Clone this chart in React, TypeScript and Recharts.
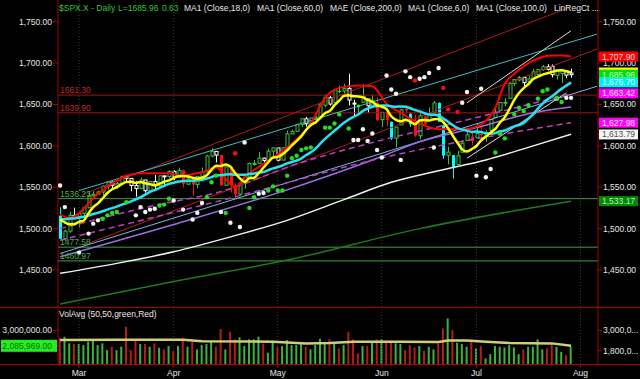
import React from "react";
import {
  ComposedChart,
  Bar,
  Line,
  Scatter,
  XAxis,
  YAxis,
  ReferenceLine,
  Cell,
} from "recharts";

// $SPX.X daily bars, 25 Feb - 30 Jul 2013, one entry per trading day
const opens = [
  1515.6, 1487.85, 1496.94, 1515.99, 1514.68, 1518.2, 1525.2, 1539.79, 1541.46, 1544.26,
  1551.15, 1556.22, 1552.48, 1554.52, 1563.21, 1560.7, 1552.1, 1548.34, 1558.71, 1545.9,
  1556.89, 1551.69, 1563.75, 1562.86, 1569.18, 1562.17, 1570.25, 1553.69, 1559.98, 1553.26,
  1563.11, 1568.61, 1587.73, 1593.3, 1588.84, 1552.36, 1574.57, 1552.03, 1541.61, 1555.25,
  1562.5, 1578.78, 1578.93, 1585.16, 1582.34, 1593.58, 1597.55, 1582.77, 1597.6, 1614.4,
  1617.55, 1625.95, 1632.69, 1626.69, 1632.1, 1633.75, 1649.13, 1658.07, 1652.45, 1665.71,
  1666.2, 1669.39, 1651.62, 1646.67, 1652.63, 1656.57, 1649.14, 1652.13, 1631.71, 1640.73,
  1629.05, 1609.29, 1625.27, 1644.67, 1638.64, 1629.94, 1612.15, 1635.52, 1630.64, 1639.77,
  1651.83, 1624.62, 1588.62, 1588.77, 1577.52, 1592.27, 1606.44, 1611.12, 1609.78, 1614.29,
  1611.48, 1618.65, 1634.2, 1642.89, 1651.56, 1657.41, 1675.26, 1679.59, 1682.7, 1677.91,
  1681.05, 1686.15, 1692.09, 1695.53, 1696.06, 1685.21, 1687.31, 1690.32, 1687.92,
];
const highs = [
  1525.84, 1498.99, 1520.08, 1525.34, 1519.99, 1525.27, 1543.47, 1545.25, 1545.78, 1552.48,
  1556.27, 1556.77, 1556.39, 1563.32, 1563.62, 1560.7, 1557.25, 1561.56, 1558.71, 1557.74,
  1564.91, 1563.95, 1564.07, 1570.28, 1570.57, 1573.66, 1571.47, 1562.6, 1559.98, 1563.07,
  1573.89, 1589.07, 1597.35, 1593.3, 1588.84, 1575.35, 1574.57, 1554.38, 1555.89, 1565.55,
  1579.58, 1583.0, 1592.64, 1585.78, 1596.65, 1597.57, 1597.55, 1598.6, 1618.46, 1619.77,
  1626.03, 1632.78, 1635.01, 1633.7, 1636.0, 1651.1, 1661.49, 1660.51, 1667.47, 1672.84,
  1674.93, 1687.18, 1655.5, 1649.78, 1674.21, 1656.57, 1661.91, 1658.99, 1640.42, 1646.53,
  1629.31, 1622.56, 1644.4, 1648.69, 1640.13, 1637.71, 1639.25, 1640.8, 1646.5, 1654.19,
  1652.45, 1624.62, 1599.19, 1588.77, 1593.79, 1606.83, 1620.07, 1615.94, 1626.61, 1624.26,
  1618.97, 1632.07, 1644.68, 1652.36, 1657.92, 1676.63, 1680.19, 1684.51, 1683.73, 1684.75,
  1693.12, 1692.09, 1697.61, 1698.78, 1698.38, 1690.94, 1691.85, 1690.92, 1693.19,
];
const lows = [
  1487.85, 1485.01, 1494.88, 1514.46, 1501.48, 1512.29, 1525.2, 1538.11, 1541.46, 1539.96,
  1547.36, 1548.24, 1548.25, 1554.52, 1555.74, 1545.13, 1538.57, 1548.34, 1543.55, 1545.9,
  1546.22, 1551.69, 1551.9, 1561.08, 1558.47, 1562.17, 1549.8, 1552.52, 1539.5, 1548.63,
  1557.0, 1568.61, 1586.17, 1579.97, 1552.28, 1552.36, 1543.69, 1536.03, 1539.4, 1548.19,
  1562.5, 1575.8, 1578.93, 1577.56, 1582.34, 1586.5, 1581.28, 1582.77, 1597.6, 1614.21,
  1616.64, 1622.7, 1623.09, 1623.71, 1626.74, 1633.75, 1646.68, 1648.6, 1652.45, 1663.52,
  1662.67, 1648.86, 1635.53, 1636.88, 1652.63, 1640.05, 1648.61, 1630.74, 1622.72, 1623.62,
  1607.09, 1598.23, 1625.27, 1639.26, 1622.92, 1610.92, 1608.07, 1623.96, 1630.34, 1639.77,
  1628.91, 1584.32, 1577.7, 1560.33, 1577.09, 1592.27, 1606.44, 1601.06, 1609.78, 1606.77,
  1604.57, 1614.71, 1634.2, 1642.89, 1647.66, 1657.41, 1672.33, 1677.89, 1671.84, 1677.91,
  1681.05, 1684.08, 1690.67, 1691.13, 1682.57, 1680.07, 1676.03, 1681.86, 1682.42,
];
const closes = [
  1487.85, 1496.94, 1515.99, 1514.68, 1518.2, 1525.2, 1539.79, 1541.46, 1544.26, 1551.18,
  1556.22, 1552.48, 1554.52, 1563.23, 1560.7, 1552.1, 1548.34, 1558.71, 1545.8, 1556.89,
  1551.69, 1563.77, 1562.85, 1569.19, 1562.17, 1570.25, 1553.69, 1559.98, 1553.28, 1563.07,
  1568.61, 1587.73, 1593.37, 1588.85, 1552.36, 1574.57, 1552.01, 1541.61, 1555.25, 1562.5,
  1578.78, 1578.79, 1585.16, 1582.24, 1593.61, 1597.57, 1582.7, 1597.59, 1614.42, 1617.5,
  1625.96, 1632.69, 1626.67, 1633.7, 1633.77, 1650.34, 1658.78, 1650.47, 1667.47, 1666.29,
  1669.16, 1655.35, 1650.51, 1649.6, 1660.06, 1648.36, 1654.41, 1630.74, 1640.42, 1631.38,
  1608.9, 1622.56, 1643.38, 1642.81, 1626.13, 1612.52, 1636.36, 1626.73, 1639.04, 1651.81,
  1628.93, 1588.19, 1592.43, 1573.09, 1588.03, 1603.26, 1613.2, 1606.28, 1614.96, 1614.08,
  1615.41, 1631.89, 1640.46, 1652.32, 1652.62, 1675.02, 1680.19, 1682.5, 1676.26, 1680.91,
  1689.37, 1692.09, 1695.53, 1692.39, 1685.94, 1690.25, 1691.65, 1685.33, 1685.96,
];
// closes before the first visible bar, needed by the 6 and 18 day averages
const priorCloses = [
  1501.96, 1498.11, 1513.17, 1495.71, 1511.29, 1512.12, 1509.39, 1517.93, 1517.01, 1519.43,
  1520.33, 1521.38, 1519.79, 1530.94, 1511.95, 1502.42, 1515.6,
];

const volumes = [
  2550000, 2630000, 2230000, 2190000, 2200000, 2130000, 2330000, 2390000, 2130000, 2230000,
  1830000, 2030000, 1830000, 2030000, 3220000, 1830000, 2470000, 2190000, 2190000, 2030000,
  2230000, 1970000, 1870000, 2070000, 1790000, 2070000, 2530000, 2030000, 2330000, 1870000,
  2130000, 2190000, 2330000, 2030000, 3080000, 1870000, 2920000, 2470000, 2590000, 2070000,
  2470000, 2470000, 2630000, 2230000, 1670000, 2390000, 2030000, 2070000, 2430000, 2130000,
  2130000, 2190000, 2030000, 1870000, 2130000, 2500000, 2190000, 2470000, 2230000, 1930000,
  2130000, 2920000, 2470000, 1630000, 2070000, 2070000, 2270000, 2470000, 2490000, 2390000,
  2390000, 2230000, 2190000, 1830000, 2130000, 1990000, 2070000, 1790000, 2030000, 1870000,
  2230000, 3120000, 3720000, 3020000, 2270000, 2190000, 2030000, 2390000, 1930000, 2070000,
  1330000, 1590000, 2070000, 2030000, 1990000, 2130000, 1990000, 1590000, 1870000, 2030000,
  2030000, 2470000, 1870000, 1930000, 2130000, 2030000, 1730000, 1530000, 2030000,
];
// 50 day volume average as [day, value]
const volAvgPts = [
  [0, 2430000], [12, 2450000], [26, 2450000], [30, 2360000], [45, 2330000], [52, 2230000],
  [57, 2250000], [62, 2330000], [72, 2330000], [80, 2310000], [82, 2400000], [86, 2400000],
  [90, 2330000], [95, 2250000], [104, 2230000], [108, 2090000],
];

// indicator lines as [day, price]
const redLinePts = [
  [0, 1517], [2, 1513], [8, 1542], [14, 1564], [17, 1567], [23, 1567], [25, 1564], [30, 1568],
  [33, 1574], [35, 1560], [37, 1550], [39, 1562], [44, 1582], [48, 1598], [53, 1627], [56, 1658],
  [59, 1670], [63, 1673], [66, 1672], [69, 1651], [72, 1640], [76, 1627], [80, 1620], [85, 1620],
  [89, 1626], [92, 1646], [94, 1675], [96, 1687], [100, 1703], [104, 1709], [106, 1709], [108, 1708],
];
const ma100Pts = [
  [0, 1446], [12, 1458], [24, 1472], [36, 1490], [48, 1510], [60, 1535], [70, 1556], [80, 1570],
  [90, 1583], [100, 1600], [108, 1614],
];
const ma200Pts = [[0, 1409], [24, 1436], [48, 1462], [76, 1500], [108, 1533]];
const ma60Pts = [
  [0, 1466], [24, 1505], [47, 1545], [67, 1585], [76, 1605], [88, 1622], [100, 1640], [108, 1647],
];
const envUpperPts = [[0, 1500], [20, 1528], [34, 1545], [50, 1578], [66, 1604], [85, 1630], [108, 1663]];
const envLowerPts = [[0, 1486], [34, 1534], [70, 1588], [108, 1628]];

// regression channels, [day, price] at each end
const chanRedUpper = [[5, 1542], [108, 1768]];
const chanRedLower = [[5, 1480], [113.5, 1717]];
const chanCyanUpper = [[4, 1546], [113.5, 1735]];
const chanCyanLower = [[0, 1470], [113.5, 1672]];
const chanWhiteUpper = [[86, 1652], [108, 1739]];
const chanWhiteLower = [[86, 1585], [107, 1664]];

const levelsRed = [1661.3, 1639.9];
const levelsGreen = [1536.23, 1477.58, 1460.97];

// marker dots, [day, price]
const whiteDots = [
  [0, 1552], [1, 1526], [4, 1471], [6, 1494], [7, 1506], [8, 1510], [16, 1516], [17, 1526],
  [18, 1520], [19, 1523], [20, 1524], [24, 1534], [26, 1523], [28, 1511], [29, 1519], [30, 1531],
  [34, 1520], [36, 1507], [38, 1502], [39, 1604], [42, 1542], [43, 1543], [62, 1607], [63, 1607],
  [64, 1620], [65, 1606], [66, 1615], [67, 1595], [68, 1586], [69, 1685], [70, 1668], [71, 1663],
  [72, 1583], [73, 1690], [74, 1683], [76, 1681], [77, 1683], [78, 1688], [79, 1598], [80, 1694],
  [85, 1652], [86, 1665], [88, 1564], [89, 1669], [90, 1562], [91, 1572], [105, 1657], [107, 1658],
  [108, 1658],
];
const greenDots = [
  [9, 1512], [10, 1516], [11, 1519], [12, 1520], [14, 1532], [21, 1528], [22, 1529], [23, 1536],
  [31, 1538], [32, 1556], [33, 1564], [35, 1519], [40, 1525], [41, 1538], [44, 1546], [45, 1551],
  [46, 1546], [47, 1546], [48, 1564], [49, 1585], [50, 1588], [51, 1595], [52, 1597], [53, 1598],
  [56, 1622], [57, 1622], [58, 1627], [59, 1638], [61, 1621], [92, 1592], [93, 1615], [94, 1609],
  [96, 1638], [97, 1646], [98, 1642], [99, 1649], [101, 1657], [102, 1666], [103, 1668], [105, 1658],
  [106, 1653],
];
const redDots = [[37, 1591], [75, 1679], [81, 1670], [82, 1644], [84, 1641]];

const monthTicks = [4, 24, 46, 68, 88, 110];
const monthLabels = ["Mar", "Apr", "May", "Jun", "Jul", "Aug"];
const priceTicks = [1450, 1500, 1550, 1600, 1650, 1700, 1750];
const tagValues = [1707.9, 1688.59, 1685.96, 1676.7, 1663.42, 1627.98, 1613.79, 1533.17];
const tagFill = ["#ff0000", "#ffff00", "#00e000", "#00f0f0", "#ff00ff", "#ff00ff", "#f4f4f4", "#008a00"];
const tagInk = ["#ffd8d8", "#9a9a00", "#c8ffc8", "#e8ffff", "#ffe0ff", "#ffe0ff", "#505050", "#b8f0b8"];

const FONT = '"Liberation Sans", Arial, sans-serif';
const AXIS = "#a80000";
const xDomain = [-0.45, 113.7];
const priceDomain = [1405.3, 1776.2];
const volDomain = [1000000, 4400000];

const allCloses = [...priorCloses, ...closes];
const avgOf = (n: number, i: number) => {
  const end = priorCloses.length + i;
  let s = 0;
  for (let k = end - n + 1; k <= end; k++) s += allCloses[k];
  return s / n;
};

const rows: any[] = closes.map((c, i) => ({
  i,
  o: opens[i],
  h: highs[i],
  l: lows[i],
  c,
  prev: i ? closes[i - 1] : priorCloses[priorCloses.length - 1],
  range: [lows[i], highs[i]],
  ma6: avgOf(6, i),
  ma18: avgOf(18, i),
}));
const addPts = (list: any[], key: string, pts: number[][]) =>
  pts.forEach(([i, v]) => {
    list[i][key] = v;
  });
addPts(rows, "red", redLinePts);
addPts(rows, "ma100", ma100Pts);
addPts(rows, "ma200", ma200Pts);
addPts(rows, "ma60", ma60Pts);
addPts(rows, "envU", envUpperPts);
addPts(rows, "envL", envLowerPts);

const volRows: any[] = volumes.map((v, i) => ({ i, v, up: closes[i] >= rows[i].prev }));
addPts(volRows, "avg", volAvgPts);

const toDots = (pts: number[][]) => pts.map(([i, v]) => ({ i, v }));

const money = (v: number) =>
  v.toLocaleString("en-US", { minimumFractionDigits: 2, maximumFractionDigits: 2 });

function Candle(props: any) {
  const { x, y, width, height, payload } = props;
  if (x == null || !payload) return null;
  const { o, h, l, c, prev, ma6, ma18 } = payload;
  const k = h > l ? height / (h - l) : 0;
  const cx = Math.round(x + width / 2) + 0.5;
  const yO = y + (h - o) * k;
  const yC = y + (h - c) * k;
  const top = Math.min(yO, yC);
  const bh = Math.max(1, Math.abs(yC - yO));
  let color = "#ff1010";
  let hollow = false;
  if (c >= o) {
    hollow = c > prev;
    color = hollow ? "#3cc03c" : "#00ff00";
  } else if ((prev - c) / prev > 0.01 && ma6 < ma18) {
    color = "#00ffff";
  } else if (c > ma18) {
    color = "#ffffff";
    hollow = true;
  }
  return (
    <g>
      <line x1={cx} x2={cx} y1={y} y2={y + height} stroke={color} strokeWidth={1} />
      <rect
        x={cx - 1.5}
        y={top}
        width={3}
        height={bh}
        fill={hollow ? "#000" : color}
        stroke={color}
        strokeWidth={hollow ? 1 : 0}
      />
    </g>
  );
}

const dot = (fill: string) => (p: any) => <circle cx={p.cx} cy={p.cy} r={2.2} fill={fill} />;

function LeftPriceTick({ x, y, payload }: any) {
  return (
    <text x={x} y={y} dy={3} textAnchor="end" fill="#e6e6e6" fontSize={8.5}>
      {money(payload.value)}
    </text>
  );
}

function RightPriceTick({ x, y, payload }: any) {
  const k = tagValues.indexOf(payload.value);
  const label = money(payload.value);
  if (k < 0)
    return (
      <text x={x} y={y} dy={3} fill="#e6e6e6" fontSize={8.5}>
        {label}
      </text>
    );
  return (
    <g>
      <rect x={x - 4} y={y - 5} width={39} height={10} fill={tagFill[k]} />
      <text x={x - 1} y={y} dy={3} fill={tagInk[k]} fontSize={8.5}>
        {label}
      </text>
    </g>
  );
}

function LeftVolTick({ x, y, payload }: any) {
  const label = money(payload.value);
  if (payload.value === 3000000)
    return (
      <text x={x} y={y} dy={3} textAnchor="end" fill="#e6e6e6" fontSize={8.5}>
        {label}
      </text>
    );
  return (
    <g>
      <rect x={1} y={y - 6} width={56} height={12} fill="#22ee22" />
      <text x={x} y={y} dy={3} textAnchor="end" fill="#0a6a0a" fontSize={8.5}>
        {label}
      </text>
    </g>
  );
}

function RightVolTick({ x, y, payload }: any) {
  return (
    <text x={x} y={y} dy={3} fill="#e6e6e6" fontSize={8.5}>
      {money(payload.value).slice(0, 7) + "..."}
    </text>
  );
}

function MonthTick({ x, y, payload }: any) {
  return (
    <text x={x} y={y} dy={7} textAnchor="middle" fill="#e6e6e6" fontSize={8.5}>
      {monthLabels[monthTicks.indexOf(payload.value)]}
    </text>
  );
}

const seg = (pts: number[][]) => pts.map(([x, y]) => ({ x, y }));

const titleStyle = (left: number, color: string): React.CSSProperties => ({
  position: "absolute",
  left,
  top: 3,
  fontSize: 8.5,
  lineHeight: "10px",
  color,
  whiteSpace: "nowrap",
});

export default function App() {
  const green = "#3cc03c";
  const white = "#e8e8e8";
  return (
    <div
      style={{
        position: "absolute",
        left: 0,
        top: 0,
        width: 640,
        height: 379,
        background: "#000",
        overflow: "hidden",
        fontFamily: FONT,
      }}
    >
      <div style={{ position: "absolute", left: 0, top: 0 }}>
        <ComposedChart width={640} height={307} data={rows} margin={{ top: 0, right: 0, bottom: 0, left: 0 }}>
          <XAxis dataKey="i" type="number" domain={xDomain} allowDataOverflow hide />
          <YAxis
            domain={priceDomain}
            allowDataOverflow
            ticks={priceTicks}
            interval={0}
            width={58}
            tickSize={5}
            tickMargin={1}
            stroke={AXIS}
            tick={<LeftPriceTick />}
          />
          <YAxis
            yAxisId="r"
            orientation="right"
            domain={priceDomain}
            allowDataOverflow
            ticks={[...priceTicks, ...tagValues]}
            interval={0}
            width={42}
            tickSize={4}
            tickMargin={1}
            stroke={AXIS}
            tick={<RightPriceTick />}
          />
          {monthTicks.map((t) => (
            <ReferenceLine key={"g" + t} x={t} stroke="#3a3a3a" strokeDasharray="1 2" />
          ))}
          {levelsRed.map((v) => (
            <ReferenceLine
              key={v}
              y={v}
              stroke="#a01414"
              label={{ value: v.toFixed(2), position: "insideBottomLeft", offset: 2, fill: "#c82828", fontSize: 8.5 }}
            />
          ))}
          {levelsGreen.map((v) => (
            <ReferenceLine
              key={v}
              y={v}
              stroke="#3f9f3f"
              label={{ value: v.toFixed(2), position: "insideBottomLeft", offset: 2, fill: "#4caf4c", fontSize: 8.5 }}
            />
          ))}
          <ReferenceLine segment={seg(chanRedUpper)} stroke="#b01c1c" />
          <ReferenceLine segment={seg(chanRedLower)} stroke="#b01c1c" />
          <ReferenceLine segment={seg(chanCyanUpper)} stroke="#3fbfbf" />
          <ReferenceLine segment={seg(chanCyanLower)} stroke="#7fb4e6" />
          <ReferenceLine segment={seg(chanWhiteUpper)} stroke="#dcdcdc" />
          <ReferenceLine segment={seg(chanWhiteLower)} stroke="#dcdcdc" />

          <Line dataKey="ma200" stroke="#1f7a1f" strokeWidth={1.5} dot={false} connectNulls type="monotone" isAnimationActive={false} />
          <Line dataKey="ma100" stroke="#f0f0f0" strokeWidth={1.5} dot={false} connectNulls type="monotone" isAnimationActive={false} />
          <Line dataKey="ma60" stroke="#9a70e0" strokeWidth={1.5} dot={false} connectNulls type="monotone" isAnimationActive={false} />
          <Line dataKey="envU" stroke="#c040c0" strokeWidth={1.5} strokeDasharray="6 4" dot={false} connectNulls type="monotone" isAnimationActive={false} />
          <Line dataKey="envL" stroke="#c040c0" strokeWidth={1.5} strokeDasharray="6 4" dot={false} connectNulls type="monotone" isAnimationActive={false} />

          <Bar dataKey="range" barSize={3} shape={<Candle />} isAnimationActive={false} />

          <Line dataKey="red" stroke="#ff0000" strokeWidth={2} dot={false} connectNulls type="monotone" isAnimationActive={false} />
          <Line dataKey="ma18" stroke="#22e4f4" strokeWidth={2.5} dot={false} type="monotone" isAnimationActive={false} />
          <Line dataKey="ma6" stroke="#ffff00" strokeWidth={2.5} dot={false} type="monotone" isAnimationActive={false} />

          <Scatter data={toDots(whiteDots)} dataKey="v" shape={dot("#f2f2f2")} isAnimationActive={false} />
          <Scatter data={toDots(greenDots)} dataKey="v" shape={dot("#22dd22")} isAnimationActive={false} />
          <Scatter data={toDots(redDots)} dataKey="v" shape={dot("#ee1111")} isAnimationActive={false} />
        </ComposedChart>
      </div>

      <div style={{ position: "absolute", left: 0, top: 307 }}>
        <ComposedChart width={640} height={72} data={volRows} margin={{ top: 0, right: 0, bottom: 0, left: 0 }}>
          <XAxis
            dataKey="i"
            type="number"
            domain={xDomain}
            allowDataOverflow
            ticks={monthTicks}
            interval={0}
            height={15}
            axisLine={false}
            tickSize={4}
            tickMargin={1}
            stroke={AXIS}
            tick={<MonthTick />}
          />
          <YAxis
            domain={volDomain}
            allowDataOverflow
            ticks={[3000000, 2085969]}
            interval={0}
            width={58}
            tickSize={5}
            tickMargin={1}
            stroke={AXIS}
            tick={<LeftVolTick />}
          />
          <YAxis
            yAxisId="r"
            orientation="right"
            domain={volDomain}
            allowDataOverflow
            ticks={[3000000, 1800000]}
            interval={0}
            width={42}
            tickSize={4}
            tickMargin={1}
            stroke={AXIS}
            tick={<RightVolTick />}
          />
          {monthTicks.map((t) => (
            <ReferenceLine key={"v" + t} x={t} stroke="#3a3a3a" strokeDasharray="1 2" />
          ))}
          <Bar dataKey="v" barSize={2} isAnimationActive={false}>
            {volRows.map((r) => (
              <Cell key={r.i} fill={r.up ? "#3cb43c" : "#b41c1c"} />
            ))}
          </Bar>
          <Line dataKey="avg" stroke="#cfcf7a" strokeWidth={2.5} dot={false} connectNulls isAnimationActive={false} />
        </ComposedChart>
      </div>

      <div style={{ position: "absolute", left: 0, top: 307, width: 640, height: 1, background: AXIS }} />
      <div style={{ position: "absolute", left: 0, top: 364, width: 640, height: 1, background: AXIS }} />

      <span style={titleStyle(59, green)}>$SPX.X - Daily</span>
      <span style={titleStyle(118, green)}>L=1685.96</span>
      <span style={titleStyle(162, green)}>0.63</span>
      <span style={titleStyle(184, white)}>MA1 (Close,18,0)</span>
      <span style={titleStyle(257, white)}>MA1 (Close,60,0)</span>
      <span style={titleStyle(330, white)}>MAE (Close,200,0)</span>
      <span style={titleStyle(408, white)}>MA1 (Close,6,0)</span>
      <span style={titleStyle(476, white)}>MA1 (Close,100,0)</span>
      <span style={titleStyle(554, white)}>LinRegCt ...</span>
      <span style={{ ...titleStyle(59, white), top: 309 }}>VolAvg (50,50,green,Red)</span>
    </div>
  );
}
